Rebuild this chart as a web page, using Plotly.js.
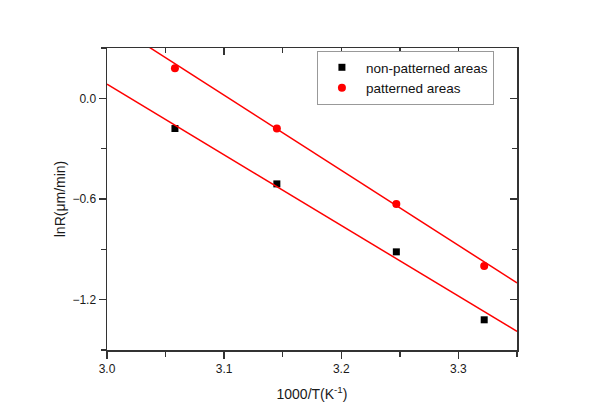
<!DOCTYPE html>
<html>
<head>
<meta charset="utf-8">
<script src="https://cdn.plot.ly/plotly-3.0.1.min.js"></script>
<style>
	body { margin: 0; background: #fff; }
	#chart { width: 600px; height: 420px; }
</style>
</head>
<body>
<div id="chart"></div>
<script>
// 1000/T values of the four temperatures
var inv_t = [3.058, 3.145, 3.247, 3.322];

var lnr_nonpat = [-0.18, -0.51, -0.915, -1.32];
var lnr_pat = [0.18, -0.18, -0.63, -1.0];

// linear fit lines, end points
var fit_x = [3.0, 3.35];
var fit_nonpat = [0.084, -1.389];
var fit_pat = [0.466, -1.100];

var font_family = "Liberation Sans, Arial, sans-serif";
var axis_color = "#333333";

var trace_nonpat = {
	mode: "markers",
	x: inv_t,
	y: lnr_nonpat,
	name: "non-patterned areas",
	marker: {
		symbol: "square",
		size: 7,
		color: "#000000"
	}
};

var trace_pat = {
	mode: "markers",
	x: inv_t,
	y: lnr_pat,
	name: "patterned areas",
	marker: {
		symbol: "circle",
		size: 8,
		color: "#ff0000"
	}
};

// fit lines sit on the mirror axes (same ranges) so that the top/right axes get drawn
var fit_line_nonpat = {
	mode: "lines",
	x: fit_x,
	y: fit_nonpat,
	xaxis: "x2",
	yaxis: "y2",
	showlegend: false,
	hoverinfo: "skip",
	line: { color: "#ff0000", width: 1.5 }
};

var fit_line_pat = {
	mode: "lines",
	x: fit_x,
	y: fit_pat,
	xaxis: "x2",
	yaxis: "y2",
	showlegend: false,
	hoverinfo: "skip",
	line: { color: "#ff0000", width: 1.5 }
};

var data = [fit_line_nonpat, fit_line_pat, trace_nonpat, trace_pat];

var layout = {
	width: 600,
	height: 420,
	paper_bgcolor: "#ffffff",
	plot_bgcolor: "#ffffff",
	font: { family: font_family, size: 12, color: "#1a1a1a" },
	margin: { l: 107, r: 83, t: 48, b: 70, autoexpand: false },
	showlegend: true,
	legend: {
		x: 0.512,
		y: 0.99,
		xanchor: "left",
		yanchor: "top",
		bgcolor: "#ffffff",
		bordercolor: "#999999",
		borderwidth: 1,
		itemwidth: 38,
		font: { size: 13.5, color: "#111111" }
	},
	xaxis: {
		range: [3.0, 3.35],
		tick0: 3.0,
		dtick: 0.1,
		tickformat: ".1f",
		ticks: "outside",
		ticklen: 7,
		tickwidth: 1.5,
		tickcolor: axis_color,
		minor: { dtick: 0.05, ticklen: 5, tickwidth: 1.5, tickcolor: axis_color, ticks: "outside" },
		showline: true,
		linecolor: axis_color,
		linewidth: 1.5,
		showgrid: false,
		zeroline: false,
		title: { text: "1000/T(K<sup>-1</sup>)", font: { size: 14 }, standoff: 14 }
	},
	xaxis2: {
		overlaying: "x",
		side: "top",
		range: [3.0, 3.35],
		tick0: 3.0,
		dtick: 0.1,
		ticks: "inside",
		ticklen: 7,
		tickwidth: 1.5,
		tickcolor: axis_color,
		minor: { dtick: 0.05, ticklen: 5, tickwidth: 1.5, tickcolor: axis_color, ticks: "inside" },
		showticklabels: false,
		showline: true,
		linecolor: axis_color,
		linewidth: 1.5,
		showgrid: false,
		zeroline: false
	},
	yaxis: {
		range: [-1.5, 0.3],
		tick0: 0,
		dtick: 0.6,
		tickformat: ".1f",
		ticks: "outside",
		ticklen: 7,
		tickwidth: 1.5,
		tickcolor: axis_color,
		minor: { dtick: 0.3, ticklen: 5, tickwidth: 1.5, tickcolor: axis_color, ticks: "outside" },
		showline: true,
		linecolor: axis_color,
		linewidth: 1.5,
		showgrid: false,
		zeroline: false,
		title: { text: "lnR(μm/min)", font: { size: 14 }, standoff: 3 }
	},
	yaxis2: {
		overlaying: "y",
		side: "right",
		range: [-1.5, 0.3],
		tick0: 0,
		dtick: 0.6,
		ticks: "inside",
		ticklen: 7,
		tickwidth: 1.5,
		tickcolor: axis_color,
		minor: { dtick: 0.3, ticklen: 5, tickwidth: 1.5, tickcolor: axis_color, ticks: "inside" },
		showticklabels: false,
		showline: true,
		linecolor: axis_color,
		linewidth: 1.5,
		showgrid: false,
		zeroline: false
	}
};

Plotly.newPlot("chart", data, layout, { displayModeBar: false, staticPlot: true });
</script>
</body>
</html>
